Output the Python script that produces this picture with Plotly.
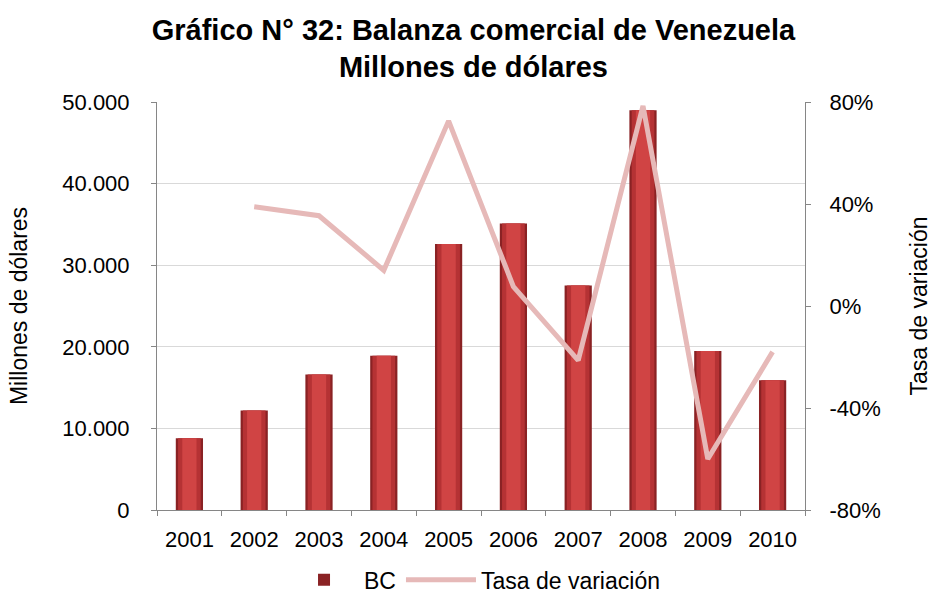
import plotly.graph_objects as go

years = ["2001", "2002", "2003", "2004", "2005", "2006", "2007", "2008", "2009", "2010"]
bc = [8800, 12200, 16600, 18900, 32600, 35100, 27500, 49000, 19500, 15900]
tasa = [None, 38.9, 35.4, 14.0, 72.6, 7.6, -21.3, 78.5, -60.0, -18.0]

pct_ticks = [-80, -40, 0, 40, 80]
pct_labels = ["-80%", "-40%", "0%", "40%", "80%"]

FONT = "Liberation Sans, Arial, sans-serif"

fig = go.Figure()

# Bars drawn as layered columns (dark rim, lighter core) for a rounded look
layers = [(0.42, "#8A2224", True), (0.35, "#B53234", False), (0.22, "#D04444", False)]
for w, col, show in layers:
    fig.add_trace(go.Bar(
        x=years, y=bc, name="BC", width=w,
        marker=dict(color=col, line=dict(width=0)),
        showlegend=show, yaxis="y",
    ))

fig.add_trace(go.Scatter(
    x=years, y=tasa, name="Tasa de variación", mode="lines",
    line=dict(color="#E6B9B8", width=5), yaxis="y2", connectgaps=False,
))

axis_common = dict(
    showline=True, linecolor="#868686", linewidth=1,
    ticks="outside", ticklen=5, tickcolor="#868686",
    tickfont=dict(size=22), zeroline=False, automargin=False,
)

fig.update_layout(
    width=932, height=594,
    margin=dict(l=157, r=127, t=102, b=84),
    paper_bgcolor="white", plot_bgcolor="white",
    barmode="overlay",
    separators=",.",
    font=dict(family=FONT, size=22, color="#000000"),
    title=dict(
        text="<b>Gráfico N° 32: Balanza comercial de Venezuela<br>Millones de dólares</b>",
        x=0.508, xanchor="center", xref="container",
        y=0.933, yanchor="middle", yref="container",
        font=dict(family=FONT, size=29, color="#000000"),
        automargin=False,
    ),
    xaxis=dict(
        type="category", tickson="boundaries", showgrid=False,
        ticklabelstandoff=10, **axis_common,
    ),
    yaxis=dict(
        range=[0, 50000], dtick=10000, tickformat=",.0f",
        showgrid=True, gridcolor="#D9D9D9", gridwidth=1,
        ticklabelstandoff=17,
        title=dict(text="Millones de dólares", font=dict(size=23), standoff=28),
        **axis_common,
    ),
    yaxis2=dict(
        overlaying="y", side="right", range=[-80, 80],
        tickvals=pct_ticks, ticktext=pct_labels, showgrid=False,
        ticklabelstandoff=14,
        title=dict(text="Tasa de variación", font=dict(size=23), standoff=36),
        **axis_common,
    ),
    legend=dict(
        orientation="h", x=0.49, xanchor="center",
        y=0.024, yanchor="middle", yref="container",
        font=dict(size=23), traceorder="normal", itemwidth=70,
    ),
)

fig.write_html("out.html")
